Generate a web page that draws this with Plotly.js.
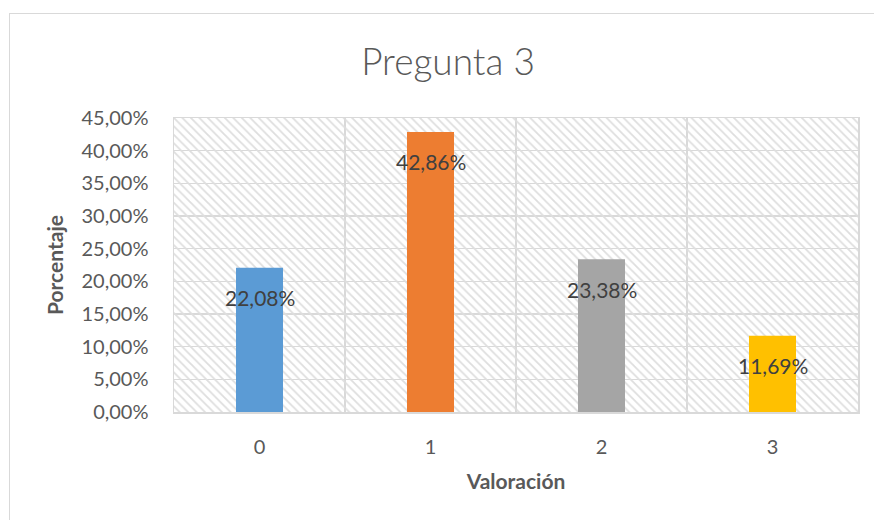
<!DOCTYPE html>
<html><head><meta charset="utf-8">
<script src="https://cdn.plot.ly/plotly-3.0.1.min.js"></script>
<style>
html,body{margin:0;padding:0;background:#fff;}
#wrap{position:relative;width:874px;height:520px;overflow:hidden;}
#frame{position:absolute;left:9px;top:13px;right:-10px;bottom:-10px;border-left:1px solid #d9d9d9;border-top:1px solid #d9d9d9;}
#chart{position:absolute;left:0;top:0;width:874px;height:520px;}
</style></head><body>
<div id="wrap"><div id="frame"></div><div id="chart"></div></div>
<script>
const categories = ['0', '1', '2', '3'];
const values = [0.2208, 0.4286, 0.2338, 0.1169];
const barColors = ['#5B9BD5', '#ED7D31', '#A5A5A5', '#FFC000'];
const yTickVals = [0, 0.05, 0.10, 0.15, 0.20, 0.25, 0.30, 0.35, 0.40, 0.45];
const chartTitle = 'Pregunta 3';
const xTitle = 'Valoración';
const yTitle = 'Porcentaje';

const FONT = 'Lato, "Open Sans", sans-serif';
const GRID = '#d9d9d9';
const xPos = categories.map((c, i) => i);
const yMax = yTickVals[yTickVals.length - 1];
const boundaries = [-0.5].concat(xPos.map(i => i + 0.5));
const fmt = v => (v * 100).toFixed(2).replace('.', ',') + '%';

const background = {
  type: 'bar', x: [(xPos[0] + xPos[xPos.length - 1]) / 2], y: [yMax], width: [xPos.length],
  marker: { color: 'rgba(0,0,0,0)', line: { width: 0 },
    pattern: { shape: '\\', fgcolor: '#dedede', bgcolor: 'rgba(0,0,0,0)', size: 6, solidity: 0.3, fillmode: 'replace' } },
  hoverinfo: 'skip', showlegend: false
};
const bars = {
  type: 'bar', x: xPos, y: values, width: 0.275,
  marker: { color: barColors, line: { width: 0 } },
  hoverinfo: 'skip', showlegend: false
};

const annotations = values.map((v, i) => ({
  x: xPos[i], y: v, text: fmt(v), showarrow: false, xanchor: 'center', yanchor: 'middle',
  yshift: -30, font: { family: FONT, size: 21, color: '#404040' }
}));

const layout = {
  width: 874, height: 520,
  paper_bgcolor: 'rgba(0,0,0,0)', plot_bgcolor: '#ffffff',
  margin: { l: 174, r: 16, t: 118, b: 108 },
  separators: ',.',
  barmode: 'overlay',
  showlegend: false,
  title: { text: chartTitle, xref: 'container', yref: 'container', x: 0.5126, xanchor: 'center', y: 0.88, yanchor: 'middle',
    font: { family: FONT, size: 37, color: '#595959', weight: 300 } },
  xaxis: {
    range: [-0.5, xPos.length - 0.5], tickmode: 'array', tickvals: xPos, ticktext: categories,
    showgrid: false, zeroline: false, ticks: '',
    minor: { tickmode: 'array', tickvals: boundaries, showgrid: true, gridcolor: GRID, gridwidth: 1.5, ticks: '' },
    showline: true, mirror: true, linecolor: GRID, linewidth: 1.5,
    tickfont: { family: FONT, size: 20, color: '#595959' }, ticklabelstandoff: 16,
    title: { text: xTitle, standoff: 18, font: { family: FONT, size: 21, color: '#595959', weight: 'bold' } }
  },
  yaxis: {
    range: [0, yMax], tickmode: 'array', tickvals: yTickVals, tickformat: '.2%',
    showgrid: true, gridcolor: GRID, gridwidth: 1.5, zeroline: false, ticks: '',
    showline: true, mirror: true, linecolor: GRID, linewidth: 1.5,
    tickfont: { family: FONT, size: 20, color: '#595959' }, ticklabelstandoff: 20,
    title: { text: yTitle, standoff: 12, font: { family: FONT, size: 21, color: '#595959', weight: 'bold' } }
  },
  annotations: annotations
};

Plotly.newPlot('chart', [background, bars], layout, { staticPlot: true, displayModeBar: false });
</script>
</body></html>
